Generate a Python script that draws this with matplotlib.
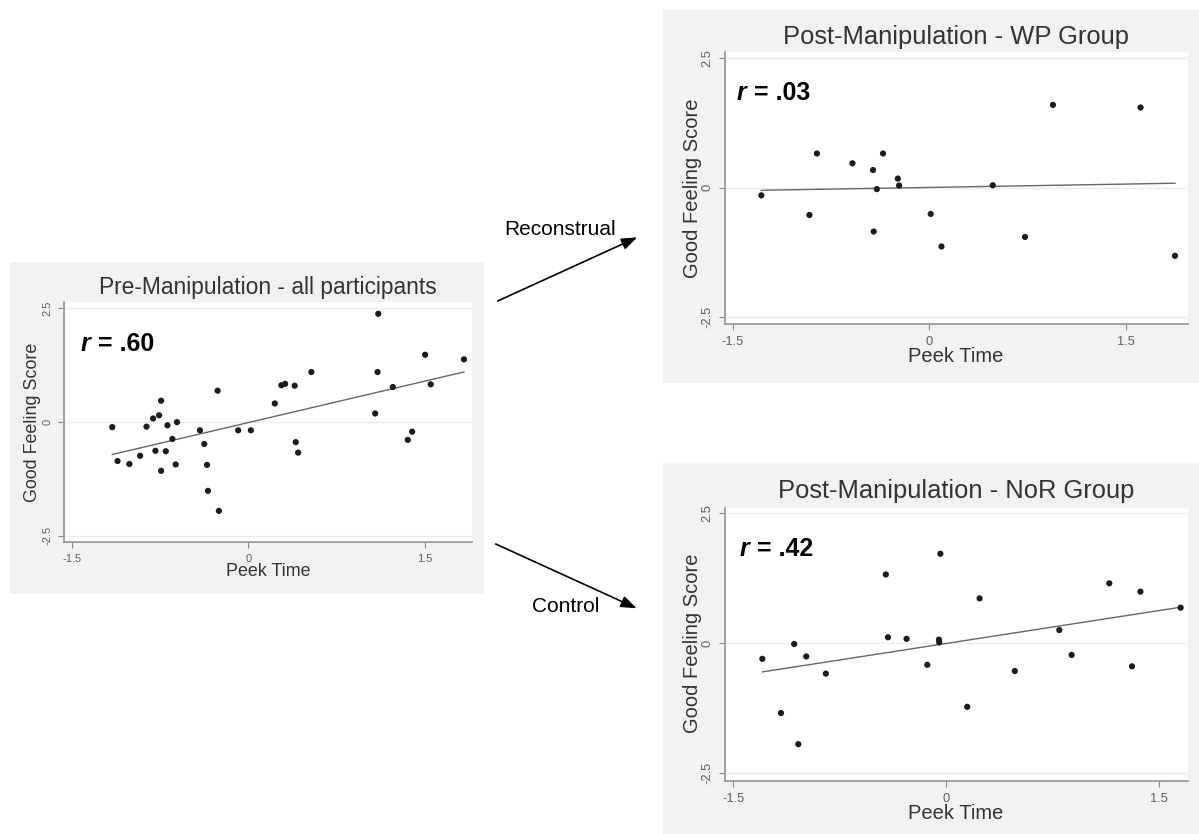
import matplotlib
matplotlib.use('Agg')
import matplotlib.pyplot as plt
import numpy as np
from matplotlib.patches import Rectangle, FancyArrowPatch

plt.rcParams['font.family'] = ['Liberation Sans', 'DejaVu Sans']

# ---------------- data ----------------
pre_x = [-1.155, -1.11, -1.01, -0.918, -0.864, -0.808, -0.788, -0.757, -0.740, -0.740,
         -0.70, -0.686, -0.644, -0.616, -0.605, -0.41, -0.373, -0.35, -0.342, -0.26,
         -0.249, -0.085, 0.023, 0.226, 0.282, 0.314, 0.395, 0.404, 0.424, 0.537,
         1.079, 1.099, 1.105, 1.229, 1.356, 1.393, 1.503, 1.551, 1.833]
pre_y = [-0.11, -0.855, -0.92, -0.74, -0.10, 0.08, -0.63, 0.15, 0.47, -1.07,
         -0.64, -0.07, -0.37, -0.93, 0.0, -0.18, -0.48, -0.94, -1.51, 0.69,
         -1.95, -0.18, -0.18, 0.41, 0.81, 0.84, 0.80, -0.44, -0.67, 1.10,
         0.19, 1.10, 2.38, 0.77, -0.39, -0.21, 1.48, 0.83, 1.38]

wp_x = [-1.282, -0.915, -0.858, -0.587, -0.43, -0.425, -0.401, -0.354, -0.241,
        -0.231, 0.010, 0.092, 0.483, 0.729, 0.942, 1.610, 1.873]
wp_y = [-0.15, -0.53, 0.66, 0.47, 0.34, -0.85, -0.03, 0.66, 0.175,
        0.04, -0.51, -1.14, 0.045, -0.955, 1.60, 1.55, -1.32]

nor_x = [-1.294, -1.163, -1.070, -1.041, -0.985, -0.847, -0.425, -0.410, -0.279,
         -0.133, -0.051, -0.049, -0.041, 0.148, 0.235, 0.483, 0.796, 0.883,
         1.148, 1.308, 1.367, 1.650]
nor_y = [-0.305, -1.35, -0.02, -1.95, -0.26, -0.59, 1.32, 0.11, 0.08,
         -0.42, 0.065, 0.013, 1.72, -1.23, 0.86, -0.54, 0.25, -0.23,
         1.15, -0.45, 0.99, 0.68]

titles = ["Pre-Manipulation - all participants",
          "Post-Manipulation - WP Group",
          "Post-Manipulation - NoR Group"]
r_values = [".60", ".03", ".42"]
xticks = [-1.5, 0, 1.5]
xtick_labels = ["-1.5", "0", "1.5"]
yticks = [-2.5, 0, 2.5]
ytick_labels = ["-2.5", "0", "2.5"]
xlabel = "Peek Time"
ylabel = "Good Feeling Score"
arrow_labels = ["Reconstrual", "Control"]

# ---------------- figure ----------------
W, H = 1199, 834
fig = plt.figure(figsize=(W / 100, H / 100), dpi=100)
fig.patch.set_facecolor('white')


def fx(x):
    return x / W


def fy(y):
    return 1 - y / H


def bg_rect(l, t, r, b):
    rect = Rectangle((fx(l), fy(b)), (r - l) / W, (b - t) / H,
                     transform=fig.transFigure, facecolor='#f1f2f2',
                     edgecolor='none', zorder=-5)
    fig.add_artist(rect)


def panel(box, xlim, ylim, xs, ys, title, title_xy, title_size,
          rval, r_xy, r_size, xl_xy, yl_xy, lab_size, tick_size):
    l, t, r, b = box
    ax = fig.add_axes([fx(l), fy(b), (r - l) / W, (b - t) / H])
    ax.set_facecolor('white')
    ax.set_xlim(*xlim)
    ax.set_ylim(*ylim)
    ax.set_axisbelow(True)
    ax.yaxis.grid(True, color='#ebebeb', lw=1.0)
    ax.xaxis.grid(False)
    for s in ['top', 'right']:
        ax.spines[s].set_visible(False)
    for s in ['left', 'bottom']:
        ax.spines[s].set_color('#9a9a9a')
        ax.spines[s].set_linewidth(1.3)
    ax.set_xticks(xticks)
    ax.set_xticklabels(xtick_labels)
    ax.set_yticks(yticks)
    ax.set_yticklabels(ytick_labels)
    ax.tick_params(axis='both', direction='out', length=4, width=0.8,
                   color='#8a8a8a', labelcolor='#606060',
                   labelsize=tick_size, pad=4.5)
    ax.tick_params(axis='y', labelrotation=90)
    for lbl in ax.get_yticklabels():
        lbl.set_va('center')
    xarr = np.array(xs)
    yarr = np.array(ys)
    slope, inter = np.polyfit(xarr, yarr, 1)
    xx = np.array([xarr.min(), xarr.max()])
    ax.plot(xx, inter + slope * xx, color='#666666', lw=1.0, zorder=2)
    ax.scatter(xarr, yarr, s=20, color='#1c1c1c', edgecolors='none', zorder=3)

    fig.text(fx(title_xy[0]), fy(title_xy[1]), title, ha='center',
             va='baseline', fontsize=title_size, color='#333333')
    t1 = fig.text(fx(r_xy[0]), fy(r_xy[1]), 'r', ha='left', va='baseline',
                  fontsize=r_size, fontweight='bold', fontstyle='italic',
                  color='black')
    ax.annotate(' = ' + rval, xy=(1, 0), xycoords=t1, ha='left', va='bottom',
                fontsize=r_size, fontweight='bold', color='black',
                annotation_clip=False)
    fig.text(fx(xl_xy[0]), fy(xl_xy[1]), xlabel, ha='center', va='baseline',
             fontsize=lab_size, color='#333333')
    fig.text(fx(yl_xy[0]), fy(yl_xy[1]), ylabel, ha='center', va='center',
             rotation=90, fontsize=lab_size, color='#333333')
    return ax


# background boxes
bg_rect(10, 262, 484, 594)
bg_rect(663, 10, 1199, 383)
bg_rect(663, 463, 1199, 834)

panel((64, 301.7, 471.7, 542.3), (-1.565, 1.899), (-2.64, 2.645),
      pre_x, pre_y, titles[0], (268, 294), 16.4,
      r_values[0], (81, 351), 18, (268, 576), (33, 422), 12.9, 8)

panel((725, 51.7, 1188, 324), (-1.559, 1.972), (-2.64, 2.63),
      wp_x, wp_y, titles[1], (956, 44), 18.4,
      r_values[1], (737, 100), 18, (956, 362), (692, 188), 14.5, 9.3)

panel((725, 508.3, 1188, 781), (-1.557, 1.702), (-2.66, 2.596),
      nor_x, nor_y, titles[2], (956, 498), 18.4,
      r_values[2], (740, 556), 18, (956, 819), (692, 643), 14.5, 9.3)

# arrows between panels
for (a, bpt) in [((497.7, 301), (637.3, 237.3)), ((495.7, 544), (636.7, 608.3))]:
    arr = FancyArrowPatch((fx(a[0]), fy(a[1])), (fx(bpt[0]), fy(bpt[1])),
                          transform=fig.transFigure,
                          arrowstyle='-|>,head_length=0.95,head_width=0.35',
                          mutation_scale=10, color='black', lw=1.2,
                          shrinkA=0, shrinkB=0)
    fig.add_artist(arr)

fig.text(fx(560), fy(229), arrow_labels[0], ha='center', va='center',
         fontsize=15, color='black')
fig.text(fx(566), fy(607), arrow_labels[1], ha='center', va='center',
         fontsize=15, color='black')

fig.savefig('out.png', dpi=100)
